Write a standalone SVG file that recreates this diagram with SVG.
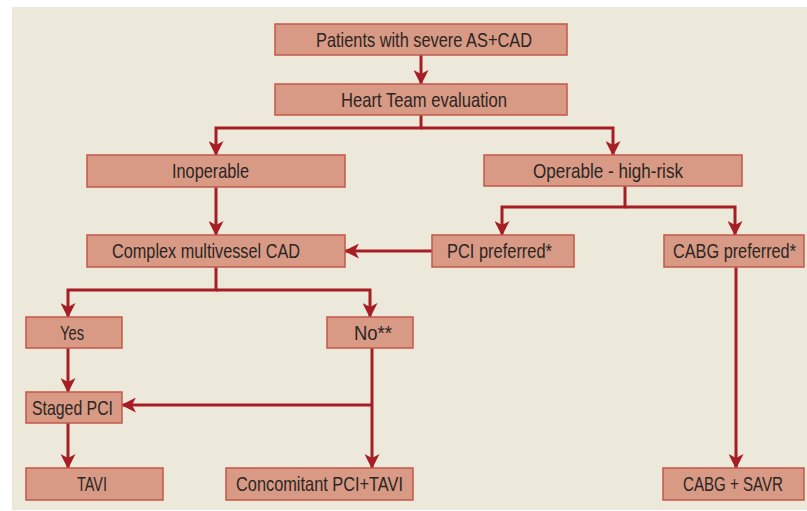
<svg xmlns="http://www.w3.org/2000/svg" width="807" height="511" viewBox="0 0 807 511">
<defs>
<style>
.box{fill:#D89A85;stroke:#C4574A;stroke-width:1.5}
.lbl{font-family:"Liberation Sans Narrow","Liberation Sans",Arial,sans-serif;font-size:21px;fill:#2B2623}
.con{fill:none;stroke:#A61E24;stroke-width:3}
</style>
<marker id="ah" markerUnits="userSpaceOnUse" markerWidth="15" markerHeight="15" viewBox="0 0 15 15" refX="14" refY="7.5" orient="auto">
<path d="M15,7.5 L0,0 L4,7.5 L0,15 Z" fill="#A61E24"/>
</marker>
</defs>
<rect x="0" y="0" width="807" height="511" fill="#FFFFFF"/>
<rect x="12" y="7" width="795" height="503" fill="#ECE9DA"/>
<g id="connectors">
<path class="con" d="M421,55 V84" marker-end="url(#ah)"/>
<path class="con" d="M421,115 V128 H216 V155" marker-end="url(#ah)"/>
<path class="con" d="M421,128 H613 V155" marker-end="url(#ah)"/>
<path class="con" d="M216,187 V235" marker-end="url(#ah)"/>
<path class="con" d="M625,186 V207 H502 V235" marker-end="url(#ah)"/>
<path class="con" d="M625,207 H735 V235" marker-end="url(#ah)"/>
<path class="con" d="M432,251 H345" marker-end="url(#ah)"/>
<path class="con" d="M216,267 V290 H68 V317" marker-end="url(#ah)"/>
<path class="con" d="M216,290 H370 V317" marker-end="url(#ah)"/>
<path class="con" d="M68,348 V392" marker-end="url(#ah)"/>
<path class="con" d="M372,348 V468" marker-end="url(#ah)"/>
<path class="con" d="M372,405 H122" marker-end="url(#ah)"/>
<path class="con" d="M68,423 V468" marker-end="url(#ah)"/>
<path class="con" d="M736,267 V468" marker-end="url(#ah)"/>
</g>
<g id="n-patients">
<rect class="box" x="275" y="24" width="292" height="31"/>
<text class="lbl" x="316" y="47" textLength="216" lengthAdjust="spacingAndGlyphs">Patients with severe AS+CAD</text>
</g>
<g id="n-heartteam">
<rect class="box" x="275" y="84" width="292" height="31"/>
<text class="lbl" x="341" y="107" textLength="166" lengthAdjust="spacingAndGlyphs">Heart Team evaluation</text>
</g>
<g id="n-inoperable">
<rect class="box" x="87" y="155" width="258" height="32"/>
<text class="lbl" x="172" y="178" textLength="77" lengthAdjust="spacingAndGlyphs">Inoperable</text>
</g>
<g id="n-operable">
<rect class="box" x="484" y="155" width="258" height="31"/>
<text class="lbl" x="533" y="178" textLength="150" lengthAdjust="spacingAndGlyphs">Operable - high-risk</text>
</g>
<g id="n-complex">
<rect class="box" x="87" y="235" width="258" height="32"/>
<text class="lbl" x="112" y="258" textLength="188" lengthAdjust="spacingAndGlyphs">Complex multivessel CAD</text>
</g>
<g id="n-pci">
<rect class="box" x="432" y="235" width="142" height="32"/>
<text class="lbl" x="447" y="258" textLength="105" lengthAdjust="spacingAndGlyphs">PCI preferred*</text>
</g>
<g id="n-cabg">
<rect class="box" x="664" y="235" width="140" height="32"/>
<text class="lbl" x="673" y="258" textLength="123" lengthAdjust="spacingAndGlyphs">CABG preferred*</text>
</g>
<g id="n-yes">
<rect class="box" x="26" y="317" width="96" height="31"/>
<text class="lbl" x="60" y="340" textLength="24" lengthAdjust="spacingAndGlyphs">Yes</text>
</g>
<g id="n-no">
<rect class="box" x="327" y="317" width="86" height="31"/>
<text class="lbl" x="354" y="340" textLength="38" lengthAdjust="spacingAndGlyphs">No**</text>
</g>
<g id="n-staged">
<rect class="box" x="26" y="392" width="96" height="31"/>
<text class="lbl" x="32" y="415" textLength="81" lengthAdjust="spacingAndGlyphs">Staged PCI</text>
</g>
<g id="n-tavi">
<rect class="box" x="26" y="468" width="137" height="32"/>
<text class="lbl" x="77" y="491" textLength="30" lengthAdjust="spacingAndGlyphs">TAVI</text>
</g>
<g id="n-concomitant">
<rect class="box" x="226" y="468" width="187" height="32"/>
<text class="lbl" x="236" y="491" textLength="167" lengthAdjust="spacingAndGlyphs">Concomitant PCI+TAVI</text>
</g>
<g id="n-cabgsavr">
<rect class="box" x="663" y="468" width="141" height="32"/>
<text class="lbl" x="683" y="491" textLength="100" lengthAdjust="spacingAndGlyphs">CABG + SAVR</text>
</g>
</svg>
